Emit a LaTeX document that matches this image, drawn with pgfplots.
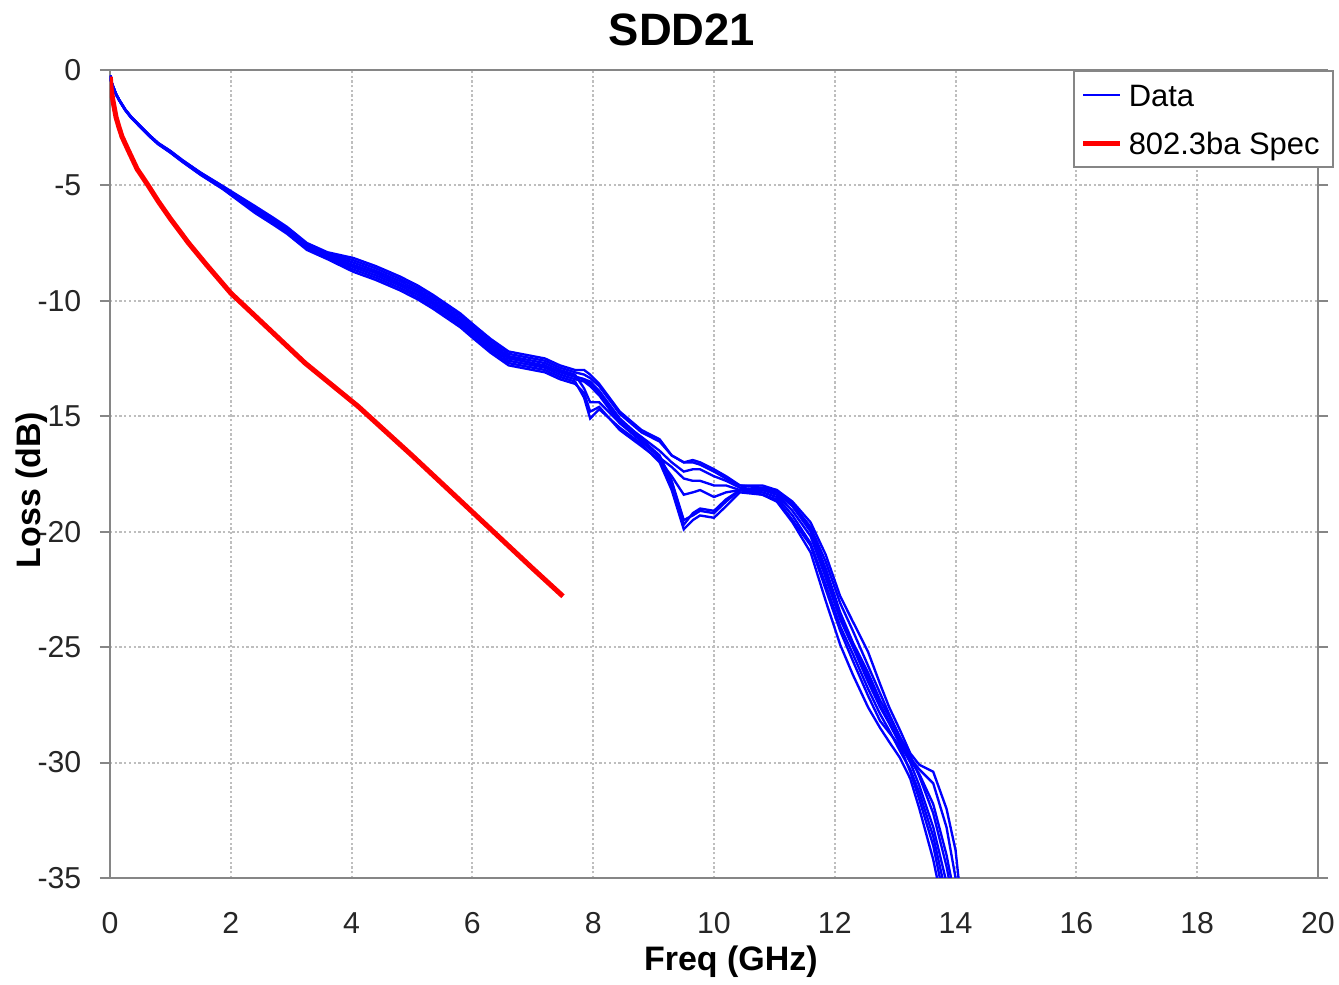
\documentclass[border=0pt]{standalone}
\usepackage{pgfplots}
\pgfplotsset{compat=1.18}
\usepackage{pgfplotstable}
\usepackage{fontspec}
\setmainfont{Liberation Sans}
\definecolor{framegray}{RGB}{134,134,134}
\definecolor{gridgray}{RGB}{190,190,190}

\pgfplotstableread{
f     c1     c2     c3     c4     c5     c6     c7     c8
0.005 -0.25  -0.25  -0.25  -0.25  -0.25  -0.25  -0.25  -0.25
0.02  -0.50  -0.50  -0.50  -0.50  -0.50  -0.50  -0.50  -0.50
0.05  -0.72  -0.71  -0.73  -0.72  -0.72  -0.72  -0.73  -0.71
0.1   -1.05  -1.04  -1.06  -1.05  -1.05  -1.05  -1.06  -1.04
0.15  -1.30  -1.29  -1.31  -1.30  -1.30  -1.30  -1.31  -1.29
0.25  -1.72  -1.71  -1.74  -1.72  -1.73  -1.72  -1.74  -1.70
0.35  -2.05  -2.04  -2.07  -2.05  -2.06  -2.05  -2.08  -2.03
0.5   -2.45  -2.43  -2.47  -2.44  -2.46  -2.45  -2.48  -2.42
0.65  -2.85  -2.83  -2.87  -2.84  -2.86  -2.85  -2.88  -2.82
0.8   -3.20  -3.18  -3.22  -3.19  -3.21  -3.20  -3.23  -3.17
1.0   -3.55  -3.52  -3.58  -3.54  -3.56  -3.55  -3.59  -3.51
1.2   -3.95  -3.92  -3.98  -3.94  -3.96  -3.95  -3.99  -3.91
1.5   -4.50  -4.46  -4.54  -4.48  -4.52  -4.50  -4.55  -4.45
1.87  -5.10  -5.05  -5.15  -5.08  -5.12  -5.10  -5.17  -5.04
2.4   -6.05  -5.95  -6.15  -6.00  -6.10  -6.07  -6.20  -5.90
2.7   -6.55  -6.45  -6.65  -6.50  -6.60  -6.53  -6.70  -6.40
2.93  -6.95  -6.85  -7.05  -6.90  -7.00  -6.97  -7.10  -6.80
3.26  -7.65  -7.55  -7.75  -7.60  -7.70  -7.63  -7.80  -7.50
3.6   -8.05  -7.95  -8.15  -8.00  -8.10  -8.07  -8.20  -7.90
4.03  -8.45  -8.25  -8.65  -8.35  -8.55  -8.48  -8.75  -8.15
4.4   -8.80  -8.60  -9.00  -8.70  -8.90  -8.78  -9.10  -8.50
4.8   -9.25  -9.05  -9.45  -9.15  -9.35  -9.27  -9.55  -8.95
5.1   -9.65  -9.45  -9.85  -9.55  -9.75  -9.62  -9.95  -9.35
5.35  -10.05 -9.85  -10.25 -9.95  -10.15 -10.07 -10.35 -9.75
5.8   -10.85 -10.65 -11.05 -10.75 -10.95 -10.88 -11.15 -10.55
6.0   -11.30 -11.10 -11.50 -11.20 -11.40 -11.28 -11.60 -11.00
6.3   -11.95 -11.75 -12.15 -11.85 -12.05 -11.98 -12.25 -11.65
6.6   -12.50 -12.30 -12.70 -12.40 -12.60 -12.45 -12.80 -12.20
7.0   -12.70 -12.50 -12.90 -12.60 -12.80 -12.72 -13.00 -12.40
7.2   -12.80 -12.60 -13.00 -12.70 -12.90 -12.85 -13.10 -12.50
7.45  -13.10 -12.90 -13.30 -13.00 -13.20 -13.08 -13.40 -12.80
7.7   -13.30 -13.10 -13.50 -13.20 -13.40 -13.28 -13.60 -13.00
7.85  -13.40 -13.20 -14.20 -13.80 -13.50 -13.40 -14.00 -13.00
7.95  -13.60 -13.35 -15.10 -14.40 -13.70 -13.50 -14.80 -13.20
8.1   -14.00 -13.70 -14.70 -14.40 -14.10 -13.90 -14.60 -13.60
8.44  -15.20 -14.90 -15.50 -15.30 -15.30 -15.10 -15.60 -14.80
8.8   -15.90 -15.70 -16.20 -16.00 -16.10 -15.95 -16.30 -15.60
9.1   -16.50 -16.10 -17.00 -16.70 -16.80 -16.80 -16.90 -16.00
9.3   -17.00 -16.70 -18.20 -17.80 -17.20 -18.00 -17.60 -16.70
9.5   -17.40 -17.00 -19.90 -19.50 -17.70 -19.70 -18.40 -17.00
9.65  -17.30 -16.90 -19.50 -19.30 -17.80 -19.20 -18.30 -17.00
9.77  -17.30 -17.00 -19.30 -19.10 -17.80 -19.00 -18.20 -17.10
10.0  -17.60 -17.30 -19.40 -19.20 -18.00 -19.10 -18.50 -17.40
10.2  -17.80 -17.60 -18.90 -18.70 -18.00 -18.60 -18.30 -17.70
10.43 -18.10 -18.00 -18.30 -18.20 -18.20 -18.20 -18.20 -18.00
10.8  -18.20 -18.00 -18.40 -18.20 -18.30 -18.10 -18.40 -18.10
11.04 -18.40 -18.20 -18.70 -18.30 -18.50 -18.20 -18.60 -18.30
11.3  -19.10 -18.70 -19.60 -18.90 -19.30 -18.80 -19.50 -18.90
11.6  -20.20 -19.60 -20.90 -19.90 -20.50 -19.80 -20.60 -20.00
11.85 -22.00 -21.00 -23.00 -21.60 -22.30 -21.30 -22.50 -21.80
12.09 -23.80 -22.80 -24.90 -23.50 -24.10 -23.10 -24.30 -23.60
12.3  -25.00 -23.90 -26.20 -24.80 -25.30 -24.30 -25.60 -24.90
12.55 -26.50 -25.20 -27.60 -26.10 -26.80 -25.80 -27.10 -26.30
12.75 -27.60 -26.60 -28.50 -27.30 -27.90 -27.00 -28.20 -27.50
12.9  -28.30 -27.60 -29.10 -28.00 -28.60 -27.90 -28.70 -28.20
13.08 -29.20 -28.60 -29.80 -28.90 -29.50 -28.90 -29.30 -29.10
13.25 -30.00 -29.60 -30.70 -29.70 -30.30 -29.80 -30.40 -29.90
13.4  -31.00 -30.10 -32.00 -30.60 -31.30 -30.30 -31.60 -30.50
13.63 -32.80 -30.40 -34.20 -32.20 -33.20 -30.90 -33.60 -31.80
13.85 -35.20 -32.00 -37.00 -34.50 -35.80 -32.80 -36.40 -34.00
14.0  -37.00 -33.80 -39.00 -36.50 -38.00 -35.00 -38.50 -36.00
14.15 -39.00 -37.50 -41.00 -39.00 -40.00 -38.00 -40.00 -38.00
}\bluedata

\pgfplotstableread{
f     y
0.005 -0.30
0.02  -0.85
0.05  -1.35
0.1   -2.05
0.15  -2.50
0.2   -2.90
0.3   -3.47
0.45  -4.30
0.63  -5.00
0.8   -5.70
1.0   -6.45
1.3   -7.50
1.6   -8.45
2.0   -9.67
2.5   -10.90
3.23  -12.70
4.11  -14.58
5.0   -16.70
6.0   -19.15
7.0   -21.60
7.5   -22.80
}\specdata

\begin{document}
\begin{tikzpicture}
\useasboundingbox (-1.15cm,-1.11cm) rectangle (12.85cm,9.18cm);
\begin{axis}[
  at={(0,0)}, anchor=south west,
  scale only axis, width=12.63cm, height=8.45cm,
  xmin=0, xmax=20, ymin=-35, ymax=0,
  xtick={0,2,4,6,8,10,12,14,16,18,20},
  xticklabels={0,2,4,6,8,10,12,14,16,18,20},
  ytick={-35,-30,-25,-20,-15,-10,-5,0},
  yticklabels={-35,-30,-25,-20,-15,-10,-5,0},
  tick align=outside,
  major tick length=3pt,
  xtick style={draw=none},
  ytick style={draw=framegray, line width=0.6pt},
  axis line style={draw=framegray, line width=0.7pt},
  grid=major,
  major grid style={draw=gridgray, line width=0.6pt, dash pattern=on 0.7pt off 0.7pt},
  tick label style={font=\fontsize{9}{11}\selectfont, text=black!85},
  xticklabel style={anchor=center, yshift=-10.4pt},
  yticklabel style={anchor=east, xshift=-2pt},
  title={SDD21},
  every axis title/.style={font=\bfseries\fontsize{13.5}{16}\selectfont, at={(0.4735,1)}, anchor=base, yshift=0.25cm},
  xlabel={Freq (GHz)},
  ylabel={Loss (dB)},
  xlabel style={font=\bfseries\fontsize{10.1}{12}\selectfont, at={(axis description cs:0.514,-0.103)}, anchor=center},
  ylabel style={font=\bfseries\fontsize{10.1}{12}\selectfont, at={(axis description cs:-0.0646,0.48)}, anchor=center},
  legend cell align=left,
  legend image code/.code={\draw[#1] (0cm,0cm) -- (0.38cm,0cm);},
  legend style={at={(0.797,1.0)}, anchor=north west, draw=framegray, fill=white,
    font=\fontsize{9.2}{11}\selectfont, row sep=0pt, inner xsep=2pt, inner ysep=0pt,
    nodes={inner ysep=0pt, text height=10.45pt, text depth=3.85pt},
    line width=0.7pt},
]
\addplot[blue, line width=0.7pt] table[x=f, y=c1] {\bluedata};
\addlegendentry{Data}
\addplot[blue, line width=0.7pt, forget plot] table[x=f, y=c2] {\bluedata};
\addplot[blue, line width=0.7pt, forget plot] table[x=f, y=c3] {\bluedata};
\addplot[blue, line width=0.7pt, forget plot] table[x=f, y=c4] {\bluedata};
\addplot[blue, line width=0.7pt, forget plot] table[x=f, y=c5] {\bluedata};
\addplot[blue, line width=0.7pt, forget plot] table[x=f, y=c6] {\bluedata};
\addplot[blue, line width=0.7pt, forget plot] table[x=f, y=c7] {\bluedata};
\addplot[blue, line width=0.7pt, forget plot] table[x=f, y=c8] {\bluedata};
\addplot[red, line width=1.5pt] table[x=f, y=y] {\specdata};
\addlegendentry{802.3ba Spec}
\end{axis}
\end{tikzpicture}
\end{document}
